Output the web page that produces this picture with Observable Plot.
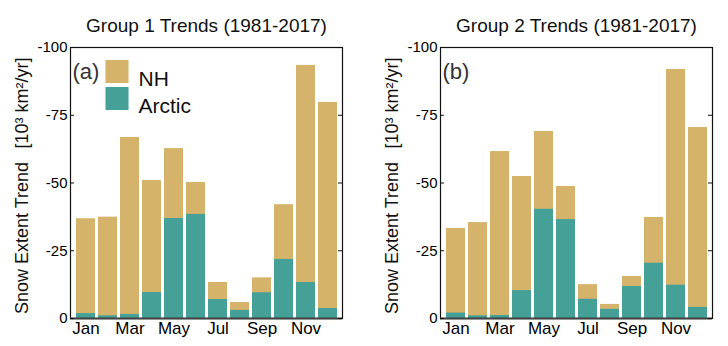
<!DOCTYPE html>
<html>
<head>
<meta charset="utf-8">
<script src="https://cdn.jsdelivr.net/npm/d3@7"></script>
<script src="https://cdn.jsdelivr.net/npm/@observablehq/plot@0.6"></script>
<style>
  html, body { margin: 0; padding: 0; background: #fff; }
  #wrap { display: flex; width: 728px; height: 346px; }
  svg { font-family: "Liberation Sans", Arial, Helvetica, sans-serif; }
</style>
</head>
<body>
<div id="wrap"></div>
<script>
const months = ["Jan","Feb","Mar","Apr","May","Jun","Jul","Aug","Sep","Oct","Nov","Dec"];
const monthLabels = ["Jan","Mar","May","Jul","Sep","Nov"];
const yTicks = [-100, -75, -50, -25, 0];

const titles = ["Group 1 Trends (1981-2017)", "Group 2 Trends (1981-2017)"];
const panelTags = ["(a)", "(b)"];
const seriesNames = ["NH", "Arctic"];
const yLabelMain = "Snow Extent Trend";
const yLabelUnit = "[10\u00b3 km\u00b2/yr]";

const nh1     = [-36.8, -37.4, -66.8, -50.9, -62.7, -50.2, -13.3, -5.9, -15.0, -42.0, -93.4, -79.7];
const arctic1 = [-1.8, -1.0, -1.5, -9.6, -36.9, -38.4, -7.0, -3.0, -9.5, -21.8, -13.3, -3.7];
const nh2     = [-33.2, -35.4, -61.6, -52.4, -69.0, -48.7, -12.5, -5.2, -15.5, -37.3, -91.9, -70.5];
const arctic2 = [-2.0, -1.0, -1.1, -10.3, -40.3, -36.5, -7.1, -3.4, -11.8, -20.4, -12.3, -4.1];

const colNH = "#d6b36b";
const colArctic = "#45a198";

function panel(nh, arctic, title, tag, showLegend, mLeft, mRight) {
  const W = 364, H = 346, mTop = 47, mBottom = 28;
  const plotW = W - mLeft - mRight;
  const nhData = months.map((m, i) => ({month: m, v: nh[i]}));
  const arData = months.map((m, i) => ({month: m, v: arctic[i]}));
  const marks = [
    Plot.barY(nhData, {x: "month", y1: 0, y2: "v", fill: colNH}),
    Plot.barY(arData, {x: "month", y1: 0, y2: "v", fill: colArctic}),
    Plot.frame({stroke: "#111", strokeWidth: 1.2}),
    Plot.ruleY([0], {stroke: "#444", strokeWidth: 2}),
    Plot.tickY(yTicks, {y: d => d, stroke: "#111", insetRight: plotW - 4}),
    Plot.tickY(yTicks, {y: d => d, stroke: "#111", insetLeft: plotW - 4}),
    Plot.axisY({ticks: yTicks, tickSize: 0, tickPadding: 3, fontSize: 15, label: null, tickFormat: d => String(d), fill: "#000"}),
    Plot.axisX({ticks: monthLabels, tickSize: 0, tickPadding: 3, fontSize: 17, label: null, fill: "#000"}),
    Plot.text([title], {frameAnchor: "top", dy: -29, fontSize: 19, fill: "#111"}),
    Plot.text([yLabelMain], {frameAnchor: "left", rotate: -90, textAnchor: "middle", dx: -48, dy: 55, fontSize: 18, fill: "#111"}),
    Plot.text([yLabelUnit], {frameAnchor: "left", rotate: -90, textAnchor: "middle", dx: -48, dy: -80, fontSize: 18, fill: "#111"}),
    Plot.text([tag], {frameAnchor: "top-left", dx: 2, dy: 16, fontSize: 22, textAnchor: "start", fill: "#333"})
  ];
  if (showLegend) {
    marks.push(
      Plot.dot([seriesNames[0]], {frameAnchor: "top-left", dx: 46.5, dy: 24, symbol: "square", r: 13, fill: colNH}),
      Plot.dot([seriesNames[1]], {frameAnchor: "top-left", dx: 46.5, dy: 51, symbol: "square", r: 13, fill: colArctic}),
      Plot.text([seriesNames[0]], {frameAnchor: "top-left", dx: 68, dy: 24, fontSize: 21, textAnchor: "start", fill: "#111"}),
      Plot.text([seriesNames[1]], {frameAnchor: "top-left", dx: 68, dy: 51, fontSize: 21, textAnchor: "start", fill: "#111"})
    );
  }
  return Plot.plot({
    width: W, height: H,
    marginTop: mTop, marginBottom: mBottom, marginLeft: mLeft, marginRight: mRight,
    style: {fontFamily: "'Liberation Sans', Arial, Helvetica, sans-serif", background: "#fff"},
    x: {type: "band", domain: months, paddingInner: 0.15, paddingOuter: 0.05, axis: null},
    y: {domain: [0, -100], axis: null},
    marks
  });
}

const wrap = document.getElementById("wrap");
wrap.append(panel(nh1, arctic1, titles[0], panelTags[0], true, 70, 22));
wrap.append(panel(nh2, arctic2, titles[1], panelTags[1], false, 76, 16));
</script>
</body>
</html>
